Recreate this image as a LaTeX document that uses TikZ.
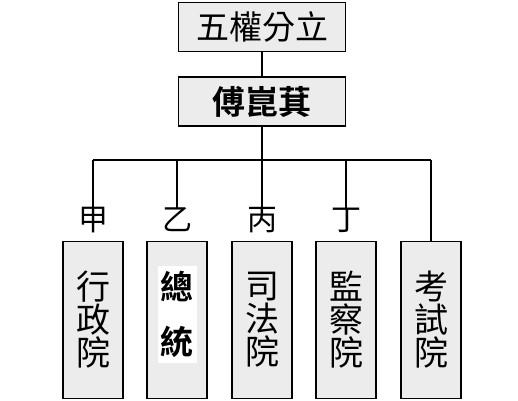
\documentclass[tikz,border=0pt]{standalone}
\usepackage{fontspec}
\newfontfamily\cjk{Noto Sans CJK TC}[BoldFont={Noto Sans CJK TC Bold}]
\begin{document}
\begin{tikzpicture}[x=1pt,y=-1pt,
  topbox/.style={draw=black,line width=1.8pt,fill=gray!15,minimum width=167pt,minimum height=49pt,inner sep=0pt},
  colbox/.style={draw=black,line width=1.8pt,fill=gray!15,minimum width=60pt,minimum height=157pt,inner sep=0pt,align=center,font=\cjk\fontsize{34}{33}\selectfont},
  lab/.style={font=\cjk\fontsize{30}{30}\selectfont,inner sep=0pt},
  conn/.style={line width=1.5pt}]
\useasboundingbox (0,0) rectangle (518,400);
\node[topbox,font=\cjk\fontsize{33}{33}\selectfont] (top) at (262,27) {五權分立};
\node[topbox,font=\cjk\bfseries\fontsize{33}{33}\selectfont] (mid) at (262,101.5) {傅崑萁};
\node[colbox] (b1) at (93,320) {行\\政\\院};
\node[colbox] (b2) at (177,320) {};
\node[fill=white,minimum width=39pt,minimum height=97pt,inner sep=0pt,align=center,font=\cjk\bfseries\fontsize{33}{55}\selectfont] (zt) at (177,314) {總\\統};
\node[colbox] (b3) at (262,320) {司\\法\\院};
\node[colbox] (b4) at (346,320) {監\\察\\院};
\node[colbox] (b5) at (431,320) {考\\試\\院};
\coordinate (j) at (262,160);
\node[lab] (l1) at (93,220) {甲};
\node[lab] (l2) at (177,220) {乙};
\node[lab] (l3) at (262,220) {丙};
\node[lab] (l4) at (346,220) {丁};
\draw[conn] (top) -- (mid);
\draw[conn] (mid) -- (j);
\draw[conn] (b1.north |- j) -- (b5.north |- j);
\draw[conn] (b1.north |- j) -- (l1.north);
\draw[conn] (b2.north |- j) -- (l2.north);
\draw[conn] (j) -- (l3.north);
\draw[conn] (b4.north |- j) -- (l4.north);
\draw[conn] (b5.north |- j) -- (b5.north);
\end{tikzpicture}
\end{document}
